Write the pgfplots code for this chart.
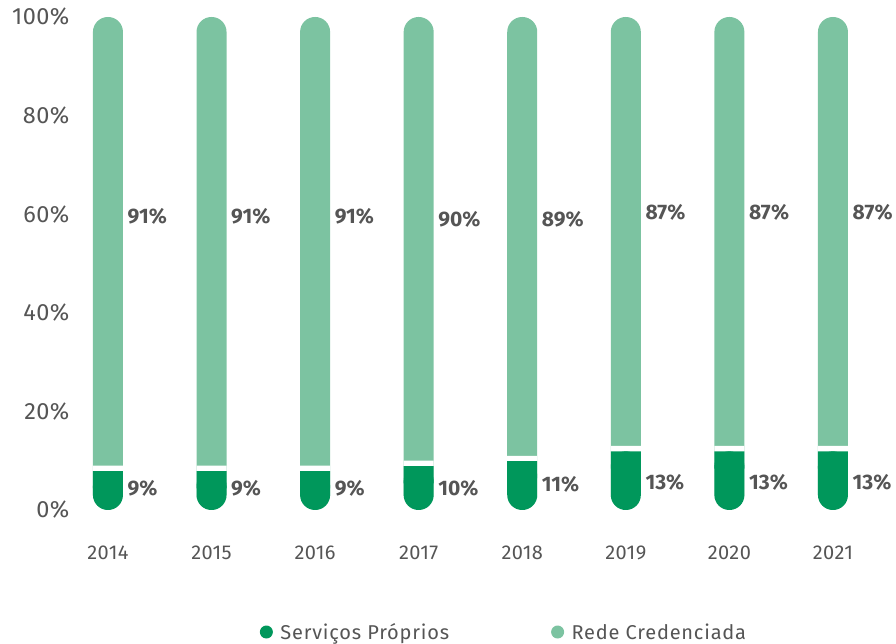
\documentclass[border=0pt]{standalone}
\usepackage{pgfplots}
\usepackage{pgfplotstable}
\usepackage{fontspec}
\setmainfont{Fira Sans}
\pgfplotsset{compat=1.18}

\definecolor{darkg}{RGB}{0,151,91}
\definecolor{lightg}{RGB}{124,195,161}
\definecolor{txt}{RGB}{85,85,85}

% x  servicos  rede  label positions
\pgfplotstableread{
x s  r  ys   yr
0 9  91 4.3  59.6
1 9  91 4.3  59.6
2 9  91 4.3  59.6
3 10 90 4.3  59.0
4 11 89 5.3  59.0
5 13 87 5.7  60.4
6 13 87 5.7  60.4
7 13 87 5.7  60.4
}\shares

\pgfplotsset{
  pillbase/.style={
    at={(0,0)}, anchor=south west,
    x=103.57pt, y=4.93pt,
    xmin=-0.38, xmax=7.6, ymin=0, ymax=100,
    clip=false,
    bar width=30pt,
  },
}

\begin{document}
\begin{tikzpicture}
\useasboundingbox (-68.6pt,-134pt) rectangle (827.4pt,510pt);

\begin{axis}[
  pillbase,
  ybar, 
  every axis plot/.append style={bar shift=0pt, draw=none},
  axis line style={draw=none},
  tick style={draw=none},
  xtick={0,...,7},
  xticklabels={2014,2015,2016,2017,2018,2019,2020,2021},
  xticklabel style={font=\fontsize{20}{24}\selectfont\addfontfeatures{LetterSpace=2}, text=txt, anchor=base, yshift=-45pt},
  ytick={0,20,...,100},
  yticklabel={\pgfmathprintnumber{\tick}\%},
  yticklabel style={font=\fontsize{23.5}{28}\selectfont\addfontfeatures{LetterSpace=2}, text=txt, anchor=east, inner sep=0pt, xshift=1pt},
  /pgf/number format/assume math mode=true,
  legend columns=2,
  legend style={at={(0.5268,-0.2475)}, anchor=center, draw=none,
    font=\fontsize{20}{24}\selectfont\addfontfeatures{LetterSpace=4}, text=txt,
    /tikz/every even column/.append style={column sep=100pt}},
]
% light pill (full height)
\addplot[fill=lightg, rounded corners=14.9pt, forget plot]
  table[x=x, y expr=\thisrow{s}+\thisrow{r}] {\shares};
% white gap
\addplot[fill=white, forget plot]
  table[x=x, y=s] {\shares};
% dark part with rounded bottom
\addplot[fill=darkg, rounded corners=14.9pt, forget plot]
  table[x=x, y expr=\thisrow{s}-1.1] {\shares};

% value labels
\addplot[only marks, mark=none, forget plot, point meta=explicit,
  nodes near coords={\pgfmathprintnumber{\pgfplotspointmeta}\%},
  nodes near coords style={anchor=west, inner sep=0pt, xshift=19.5pt,
    font=\bfseries\fontsize{21}{24}\selectfont, text=txt}]
  table[x=x, y=yr, meta=r] {\shares};
\addplot[only marks, mark=none, forget plot, point meta=explicit,
  nodes near coords={\pgfmathprintnumber{\pgfplotspointmeta}\%},
  nodes near coords style={anchor=west, inner sep=0pt, xshift=19.5pt,
    font=\bfseries\fontsize{21}{24}\selectfont, text=txt}]
  table[x=x, y=ys, meta=s] {\shares};

\addlegendimage{legend image code/.code={\path (-6.5pt,0) -- (12pt,0); \fill[darkg] (0pt,0pt) circle (6.5pt);}}
\addlegendentry{Serviços Próprios}
\addlegendimage{legend image code/.code={\path (-6.5pt,0) -- (12pt,0); \fill[lightg] (0pt,0pt) circle (6.5pt);}}
\addlegendentry{Rede Credenciada}
\end{axis}

% square top of the dark segment
\begin{axis}[
  pillbase,
  ybar stacked,
  hide axis,
  every axis plot/.append style={draw=none},
]
\addplot[fill=none] table[x=x, y expr=\thisrow{s}-4.6] {\shares};
\addplot[fill=darkg] table[x=x, y expr=3.5] {\shares};
\end{axis}
\end{tikzpicture}
\end{document}
